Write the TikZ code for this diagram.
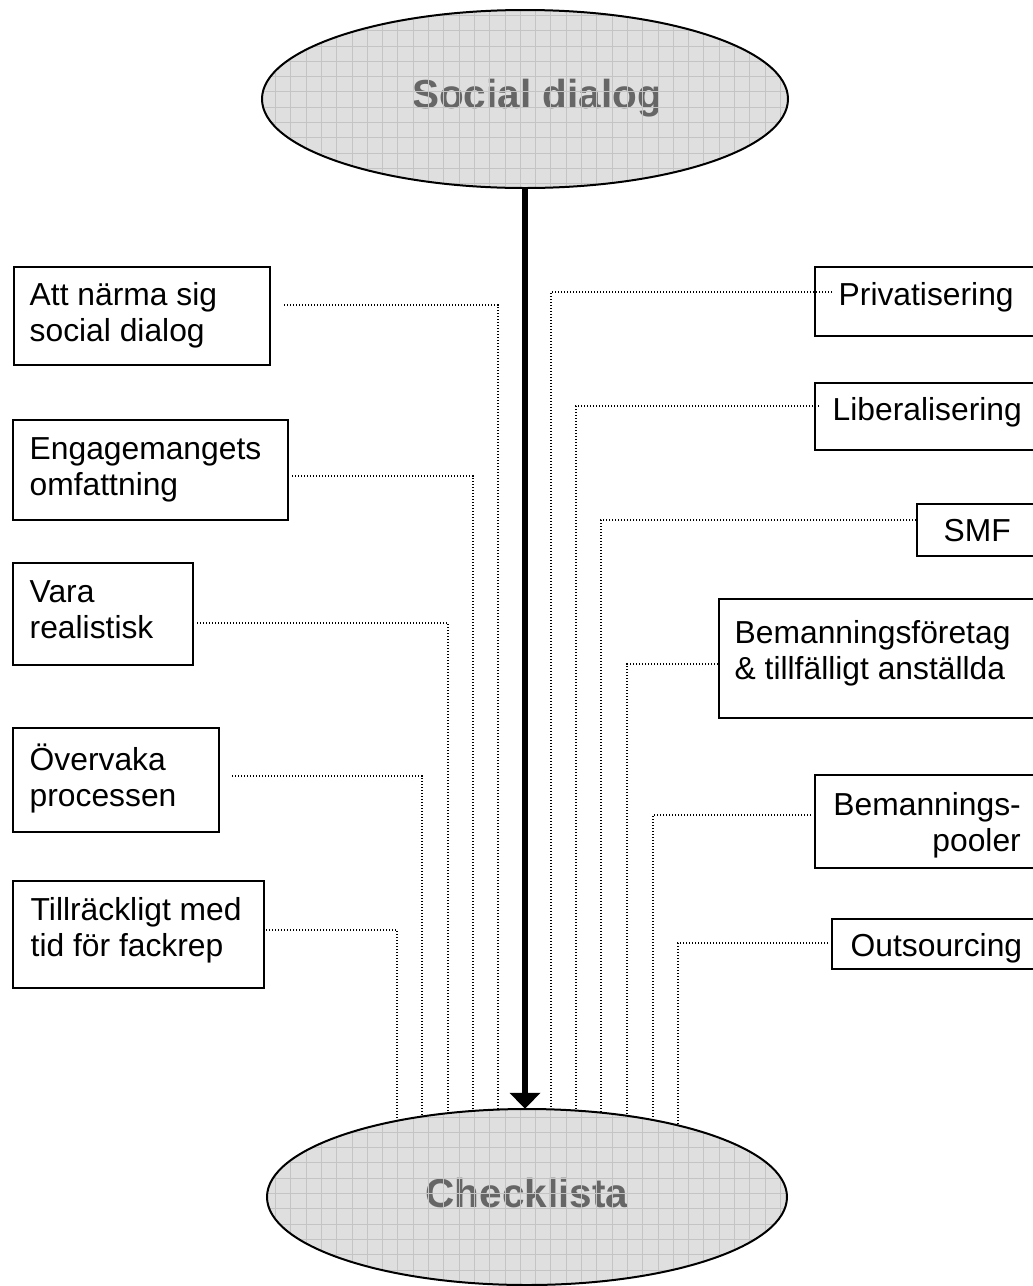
\documentclass[tikz,border=0pt]{standalone}
\usepackage{fontspec}
\setmainfont{Liberation Sans}
\usetikzlibrary{arrows.meta,shapes.geometric,calc}
\pgfdeclarelayer{background}
\pgfsetlayers{background,main}
\definecolor{bubblefill}{HTML}{DFDFDF}
\definecolor{bubblegrid}{HTML}{C4C4C4}
\definecolor{bubbleink}{HTML}{666666}

\newcommand{\boxlines}[2][l]{\begin{tabular}[t]{@{}#1@{}}#2\end{tabular}}

\begin{document}
\begin{tikzpicture}[x=1pt,y=-1pt,
  bubble/.style={ellipse, fill=bubblefill, inner sep=0pt},
  bubbletext/.style={font=\fontsize{40.5}{48}\selectfont\bfseries, text=bubbleink, inner sep=0pt, anchor=base},
  bubbleline/.style={draw=black, line width=2pt},
  gridline/.style={draw=bubblegrid, line width=0.8pt},
  box/.style={draw=black, line width=2pt, anchor=north west, inner sep=0pt},
  boxtext/.style={font=\fontsize{31.8}{36}\selectfont, inner sep=0pt, anchor=base west},
  leader/.style={line width=1.4pt, dash pattern=on 1.4pt off 1.6pt},
  mainarrow/.style={line width=5.5pt, -{Triangle[width=30pt,length=16pt]}}
]
\path[use as bounding box, clip] (0,0) rectangle (1033,1286);

% the two ellipses, each with a fine grid laid over its fill
\node[bubble, minimum width=526pt, minimum height=178pt] (social) at (525,99) {};
\node[bubbletext] (socialtext) at (537,108) {Social dialog};
\begin{scope}
  \clip (social.center) ellipse [x radius=263pt, y radius=89pt];
  \draw[gridline] ($(social.center)+(-270,-95)$) grid[step=15.3pt] ($(social.center)+(270,95)$);
\end{scope}
\draw[bubbleline] (social.center) ellipse [x radius=263pt, y radius=89pt];

\node[bubble, minimum width=520pt, minimum height=176pt] (check) at (527,1197) {};
\node[bubbletext] (checktext) at (527,1207) {Checklista};
\begin{scope}
  \clip (check.center) ellipse [x radius=260pt, y radius=88pt];
  \draw[gridline] ($(check.center)+(-270,-95)$) grid[step=15.3pt] ($(check.center)+(270,95)$);
\end{scope}
\draw[bubbleline] (check.center) ellipse [x radius=260pt, y radius=88pt];

% left column
\node[box, minimum width=256pt, minimum height=98pt]  (b1) at (13,266) {};
\node[box, minimum width=275pt, minimum height=100pt] (b2) at (12,419) {};
\node[box, minimum width=180pt, minimum height=102pt] (b3) at (12,562) {};
\node[box, minimum width=206pt, minimum height=104pt] (b4) at (12,727) {};
\node[box, minimum width=251pt, minimum height=107pt] (b5) at (12,880) {};
\node[boxtext] (t1) at (29.5,305) {\boxlines{Att närma sig\\social dialog}};
\node[boxtext] (t2) at (29.5,459) {\boxlines{Engagemangets\\omfattning}};
\node[boxtext] (t3) at (29.5,602) {\boxlines{Vara\\realistisk}};
\node[boxtext] (t4) at (29.5,770) {\boxlines{Övervaka\\processen}};
\node[boxtext] (t5) at (30.5,920) {\boxlines{Tillräckligt med\\tid för fackrep}};

% right column
\node[box, minimum width=260pt, minimum height=69pt]  (r1) at (814,266) {};
\node[box, minimum width=260pt, minimum height=67pt]  (r2) at (814,382) {};
\node[box, minimum width=160pt, minimum height=52pt]  (r3) at (916,503) {};
\node[box, minimum width=350pt, minimum height=119pt] (r4) at (718,598) {};
\node[box, minimum width=260pt, minimum height=93pt]  (r5) at (814,774) {};
\node[box, minimum width=240pt, minimum height=50pt]  (r6) at (831,918) {};
\node[boxtext] (u1) at (838.5,305) {Privatisering};
\node[boxtext] (u2) at (832.5,420) {Liberalisering};
\node[boxtext] (u3) at (943.5,541) {SMF};
\node[boxtext] (u4) at (734.5,643) {\boxlines{Bemanningsföretag\\\& tillfälligt anställda}};
\node[boxtext, anchor=base east] (u5) at (1021,815) {\boxlines[r]{Bemannings-\\pooler}};
\node[boxtext] (u6) at (850.5,956) {Outsourcing};

% main flow
\draw[mainarrow] (social.south) -- (social.south |- check.north);

% dotted leaders, running down behind the lower ellipse
\coordinate (c1) at (498,305);
\coordinate (c2) at (473,476);
\coordinate (c3) at (448,623);
\coordinate (c4) at (422,776);
\coordinate (c5) at (397,930);
\coordinate (k1) at (551,292);
\coordinate (k2) at (576,406);
\coordinate (k3) at (601,520);
\coordinate (k4) at (627,664);
\coordinate (k5) at (653,815);
\coordinate (k6) at (678,943);
\begin{pgfonlayer}{background}
  \draw[leader] ($(b1.east |- c1)+(13,0)$) -- (c1) -- (c1 |- check.center);
  \draw[leader] ($(b2.east |- c2)+(3,0)$)  -- (c2) -- (c2 |- check.center);
  \draw[leader] ($(b3.east |- c3)+(3,0)$)  -- (c3) -- (c3 |- check.center);
  \draw[leader] ($(b4.east |- c4)+(12,0)$) -- (c4) -- (c4 |- check.center);
  \draw[leader] ($(b5.east |- c5)+(1,0)$)  -- (c5) -- (c5 |- check.center);
  \draw[leader] ($(r1.west |- k1)+(18,0)$) -- (k1) -- (k1 |- check.center);
  \draw[leader] ($(r2.west |- k2)+(5,0)$)  -- (k2) -- (k2 |- check.center);
  \draw[leader] (r3.west |- k3) -- (k3) -- (k3 |- check.center);
  \draw[leader] (r4.west |- k4) -- (k4) -- (k4 |- check.center);
  \draw[leader] ($(r5.west |- k5)+(-3,0)$) -- (k5) -- (k5 |- check.center);
  \draw[leader] ($(r6.west |- k6)+(-3,0)$) -- (k6) -- (k6 |- check.center);
\end{pgfonlayer}
\end{tikzpicture}
\end{document}
